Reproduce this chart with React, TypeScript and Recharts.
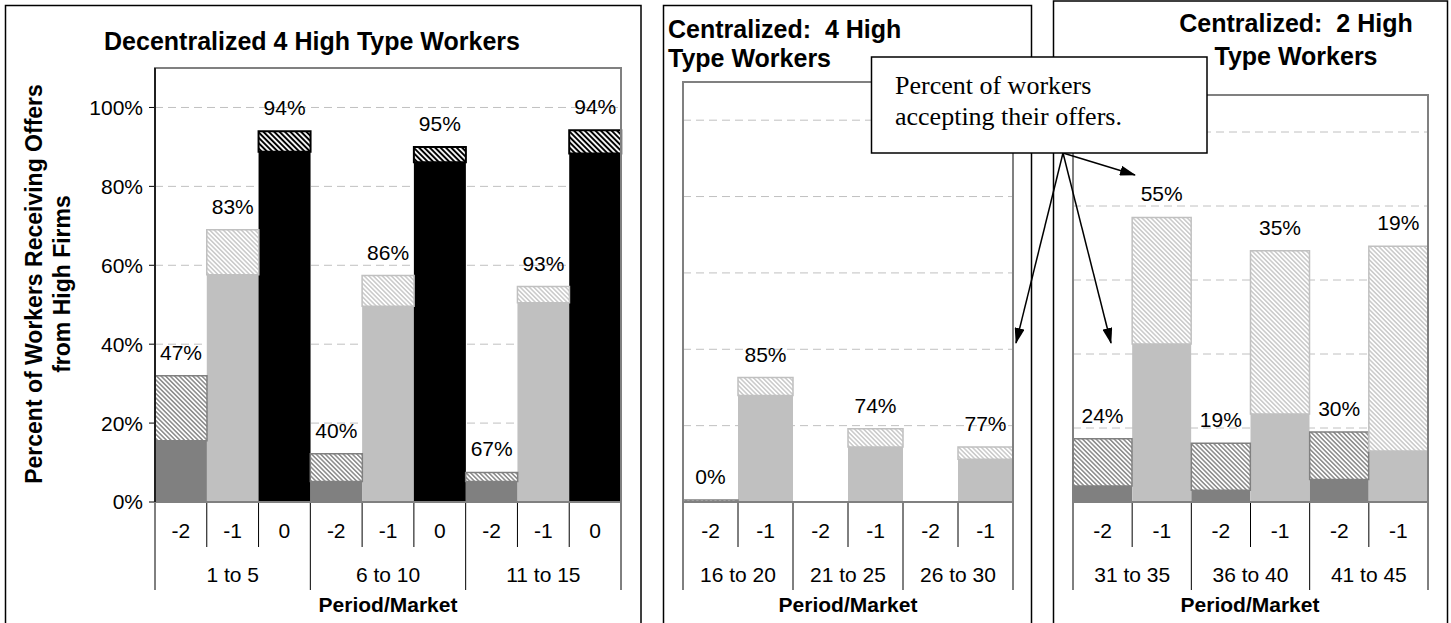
import React from 'react';
import { BarChart, Bar, XAxis, YAxis, CartesianGrid, Cell, LabelList } from 'recharts';

// Decentralized, 4 high type workers
const decTypes = ['-2', '-1', '0', '-2', '-1', '0', '-2', '-1', '0'];
const decGroups = ['1 to 5', '6 to 10', '11 to 15'];
const decReceived = [32.0, 69.0, 94.0, 12.2, 57.4, 90.0, 7.5, 54.6, 94.2];
const decAccepted = [15.5, 57.6, 88.8, 5.2, 49.6, 86.1, 5.2, 50.5, 88.3];
const decLabels = ['47%', '83%', '94%', '40%', '86%', '95%', '67%', '93%', '94%'];

// Centralized, 4 high type workers
const c4Types = ['-2', '-1', '-2', '-1', '-2', '-1'];
const c4Groups = ['16 to 20', '21 to 25', '26 to 30'];
const c4Received = [0.5, 32.6, 0, 19.2, 0, 14.4];
const c4Accepted = [0, 27.9, 0, 14.4, 0, 11.2];
const c4Labels = ['0%', '85%', '', '74%', '', '77%'];

// Centralized, 2 high type workers
const c2Types = ['-2', '-1', '-2', '-1', '-2', '-1'];
const c2Groups = ['31 to 35', '36 to 40', '41 to 45'];
const c2Received = [17.1, 76.9, 15.9, 67.9, 18.9, 69.1];
const c2Accepted = [4.3, 42.7, 3.2, 23.8, 6.1, 13.8];
const c2Labels = ['24%', '55%', '19%', '35%', '30%', '19%'];

const yTicks = [0, 20, 40, 60, 80, 100];

const SANS = 'Arial, "Liberation Sans", sans-serif';
const SERIF = '"Times New Roman", "Liberation Serif", serif';

const solid: Record<string, string> = { '-2': '#808080', '-1': '#C0C0C0', '0': '#000000' };
const hatch: Record<string, string> = { '-2': 'hatchDark', '-1': 'hatchLight', '0': 'hatchBlack' };
const edge: Record<string, number> = { '-2': 1.5, '-1': 1.5, '0': 2 };

const buildRows = (types: string[], received: number[], accepted: number[], labels: string[]) =>
  types.map((t, i) => ({ type: t, accepted: accepted[i], rest: received[i] - accepted[i], label: labels[i] }));

const renderValueLabel = (props: any) => {
  const vb = props.viewBox || {};
  const x = Number(props.x ?? vb.x);
  const y = Number(props.y ?? vb.y);
  const w = Number(props.width ?? vb.width);
  if (!props.value) return null;
  return (
    <text x={x + w / 2} y={y - 16} textAnchor="middle" fontSize={21} fontFamily={SANS} fill="#000">
      {props.value}
    </text>
  );
};

const makeTick = (bw: number, groupSize: number, groups: string[], n: number) => (props: any) => {
  const { payload } = props;
  const index: number = props.index ?? payload.index;
  const cx = Number(props.x);
  const cy = Number(props.y);
  const left = cx - bw / 2;
  const first = index % groupSize === 0;
  return (
    <g>
      <line x1={left} x2={left} y1={cy} y2={cy + (first ? 88 : 45)} stroke="#000" strokeWidth={1} />
      {index === n - 1 && (
        <line x1={cx + bw / 2} x2={cx + bw / 2} y1={cy} y2={cy + 88} stroke="#000" strokeWidth={1} />
      )}
      <text x={cx} y={cy + 36} textAnchor="middle" fontSize={21} fontFamily={SANS} fill="#000">
        {payload.value}
      </text>
      {first && (
        <text x={left + (groupSize * bw) / 2} y={cy + 80} textAnchor="middle" fontSize={21} fontFamily={SANS} fill="#000">
          {groups[Math.floor(index / groupSize)]}
        </text>
      )}
    </g>
  );
};

interface PanelProps {
  rows: { type: string; accepted: number; rest: number; label: string }[];
  groups: string[];
  groupSize: number;
  left: number;
  width: number;
  margin: { top: number; right: number; bottom: number; left: number };
  showY: boolean;
}

const Y_WIDTH = 60;

const Panel: React.FC<PanelProps> = ({ rows, groups, groupSize, left, width, margin, showY }) => {
  const plotW = width - margin.left - margin.right - (showY ? Y_WIDTH : 0);
  const bw = plotW / rows.length;
  return (
    <div style={{ position: 'absolute', left, top: 0 }}>
      <BarChart width={width} height={623} data={rows} margin={margin} barCategoryGap={0} barGap={0}>
        <CartesianGrid horizontal vertical={false} stroke="#C0C0C0" strokeDasharray="8 5" />
        <XAxis
          dataKey="type"
          interval={0}
          height={30}
          tickSize={0}
          tickMargin={0}
          tickLine={false}
          axisLine={{ stroke: '#000', strokeWidth: 1.5 }}
          tick={makeTick(bw, groupSize, groups, rows.length)}
        />
        <YAxis
          hide={!showY}
          width={Y_WIDTH}
          domain={[0, 110]}
          ticks={yTicks}
          allowDataOverflow
          tickFormatter={(v: number) => `${v}%`}
          tick={{ fontSize: 21, fontFamily: SANS, fill: '#000' }}
          tickSize={6}
          tickMargin={6}
          tickLine={{ stroke: '#000' }}
          axisLine={{ stroke: '#000', strokeWidth: 1.5 }}
        />
        <Bar dataKey="accepted" stackId="a" isAnimationActive={false}>
          {rows.map((r, i) => (
            <Cell key={`a-${i}`} fill={solid[r.type]} />
          ))}
        </Bar>
        <Bar dataKey="rest" stackId="a" isAnimationActive={false}>
          {rows.map((r, i) => (
            <Cell key={`r-${i}`} fill={`url(#${hatch[r.type]})`} stroke={solid[r.type]} strokeWidth={edge[r.type]} />
          ))}
          <LabelList dataKey="label" content={renderValueLabel} />
        </Bar>
      </BarChart>
    </div>
  );
};

const HatchDefs = () => (
  <svg width={0} height={0} style={{ position: 'absolute' }}>
    <defs>
      <pattern id="hatchDark" patternUnits="userSpaceOnUse" width={3.2} height={3.2} patternTransform="rotate(-45)">
        <rect width={3.2} height={3.2} fill="#fff" />
        <line x1={1.6} y1={0} x2={1.6} y2={3.2} stroke="#808080" strokeWidth={1.4} />
      </pattern>
      <pattern id="hatchLight" patternUnits="userSpaceOnUse" width={3.2} height={3.2} patternTransform="rotate(-45)">
        <rect width={3.2} height={3.2} fill="#fff" />
        <line x1={1.6} y1={0} x2={1.6} y2={3.2} stroke="#C0C0C0" strokeWidth={1.3} />
      </pattern>
      <pattern id="hatchBlack" patternUnits="userSpaceOnUse" width={3.8} height={3.8} patternTransform="rotate(-45)">
        <rect width={3.8} height={3.8} fill="#fff" />
        <line x1={1.9} y1={0} x2={1.9} y2={3.8} stroke="#000" strokeWidth={2} />
      </pattern>
    </defs>
  </svg>
);

const Overlay = () => (
  <svg width={1451} height={623} style={{ position: 'absolute', left: 0, top: 0, pointerEvents: 'none' }}>
    <defs>
      <marker id="arrowHead" markerUnits="userSpaceOnUse" markerWidth={16} markerHeight={10} refX={15} refY={5} orient="auto">
        <path d="M0,0 L16,5 L0,10 z" fill="#000" />
      </marker>
    </defs>
    {/* panel frames */}
    <rect x={5.5} y={5.5} width={635.5} height={640} fill="none" stroke="#000" strokeWidth={1.5} />
    <rect x={663.5} y={5.5} width={368} height={640} fill="none" stroke="#000" strokeWidth={1.5} />
    <rect x={1053.5} y={1} width={394} height={640} fill="none" stroke="#000" strokeWidth={1.5} />
    {/* plot area frames */}
    <rect x={155} y={68} width={466} height={434} fill="none" stroke="#808080" strokeWidth={2} />
    <rect x={683} y={82} width={330} height={420} fill="none" stroke="#808080" strokeWidth={2} />
    <rect x={1073} y={95} width={355} height={407} fill="none" stroke="#808080" strokeWidth={2} />
    <line x1={155} x2={155} y1={68} y2={502} stroke="#000" strokeWidth={1.5} />
    {/* titles */}
    <g fontFamily={SANS} fontWeight="bold" fill="#000">
      <text x={312} y={50} fontSize={25} textAnchor="middle">Decentralized 4 High Type Workers</text>
      <text x={668} y={38} fontSize={25} xmlSpace="preserve">Centralized:  4 High</text>
      <text x={668} y={67} fontSize={25}>Type Workers</text>
      <text x={1296} y={32} fontSize={25} textAnchor="middle" xmlSpace="preserve">Centralized:  2 High</text>
      <text x={1296} y={65} fontSize={25} textAnchor="middle">Type Workers</text>
      <text transform="translate(42,284) rotate(-90)" fontSize={23} textAnchor="middle">Percent of Workers Receiving Offers</text>
      <text transform="translate(70,284) rotate(-90)" fontSize={23} textAnchor="middle">from High Firms</text>
      <text x={388} y={612} fontSize={21} textAnchor="middle">Period/Market</text>
      <text x={848} y={612} fontSize={21} textAnchor="middle">Period/Market</text>
      <text x={1250} y={612} fontSize={21} textAnchor="middle">Period/Market</text>
    </g>
    {/* callout */}
    <line x1={1063} y1={153} x2={1135} y2={175} stroke="#000" strokeWidth={1.5} markerEnd="url(#arrowHead)" />
    <line x1={1063} y1={153} x2={1016} y2={343} stroke="#000" strokeWidth={1.5} markerEnd="url(#arrowHead)" />
    <line x1={1063} y1={153} x2={1111} y2={343} stroke="#000" strokeWidth={1.5} markerEnd="url(#arrowHead)" />
    <rect x={871.5} y={57} width={335.5} height={96} fill="#fff" stroke="#000" strokeWidth={1.5} />
    <text x={895} y={94} fontSize={26} fontFamily={SERIF} fill="#000">Percent of workers</text>
    <text x={895} y={125} fontSize={26} fontFamily={SERIF} fill="#000">accepting their offers.</text>
  </svg>
);

const App: React.FC = () => {
  const decRows = buildRows(decTypes, decReceived, decAccepted, decLabels);
  const c4Rows = buildRows(c4Types, c4Received, c4Accepted, c4Labels);
  const c2Rows = buildRows(c2Types, c2Received, c2Accepted, c2Labels);
  return (
    <div style={{ position: 'absolute', left: 0, top: 0, width: 1451, height: 623, background: '#fff', overflow: 'hidden' }}>
      <HatchDefs />
      <Panel rows={decRows} groups={decGroups} groupSize={3} left={0} width={641}
        margin={{ top: 68, right: 20, bottom: 91, left: 95 }} showY />
      <Panel rows={c4Rows} groups={c4Groups} groupSize={2} left={663} width={369}
        margin={{ top: 82, right: 19, bottom: 91, left: 20 }} showY={false} />
      <Panel rows={c2Rows} groups={c2Groups} groupSize={2} left={1053} width={394}
        margin={{ top: 95, right: 19, bottom: 91, left: 20 }} showY={false} />
      <Overlay />
    </div>
  );
};

export default App;
